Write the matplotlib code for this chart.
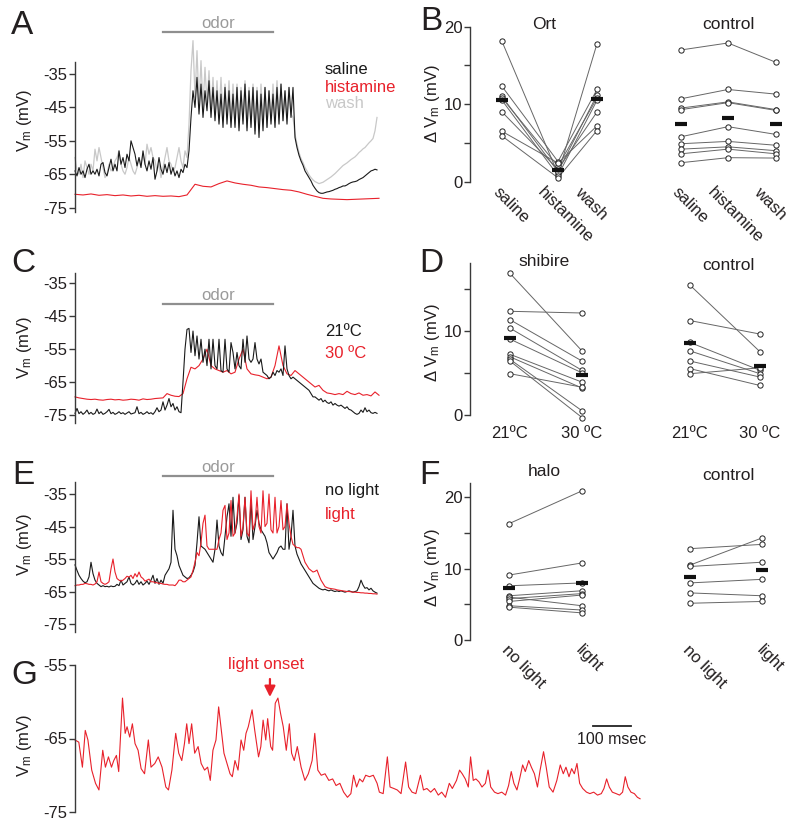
import numpy as np
import matplotlib
matplotlib.use("Agg")
import matplotlib.pyplot as plt

plt.rcParams['font.family'] = ['Liberation Sans', 'DejaVu Sans']
plt.rcParams['mathtext.fontset'] = 'custom'
plt.rcParams['mathtext.rm'] = 'Liberation Sans'
plt.rcParams['mathtext.it'] = 'Liberation Sans:italic'

BLACK = '#1a1a1a'
RED = '#e8212b'
LIGHT = '#c8c8c8'
ODOR = '#8f8f8f'
TXT = '#231f20'
FS = 12

# ---------------- traces (mV), sampled every 2 units unless noted ----------------
a_saline = [
    -64, -65.5, -63, -65, -64, -66, -63.5, -62, -65, -64,
    -65, -63.5, -65.5, -62, -61.5, -64.5, -65.5, -63, -60.5, -64,
    -62, -64, -58, -62, -60, -63, -59, -61, -55, -57,
    -59, -62.5, -60, -63, -58, -62, -64, -61, -63.5, -60,
    -66.5, -64, -60, -63.5, -65, -62, -64.5, -61.5, -65, -63,
    -65.5, -64, -66, -63.5, -64.5, -62, -63, -58, -48, -40,
    -45, -36, -47, -38, -48, -40, -46, -37, -48, -39,
    -49, -40, -50, -41, -51, -39, -50, -40, -51, -41,
    -51, -39, -52, -40, -50, -38, -52, -40, -51, -39,
    -53, -40, -54, -41, -52, -39, -51, -40, -50, -41,
    -51, -39, -50, -38, -49, -40, -50, -39, -48, -39,
    -54, -57, -59.3, -61, -62.3, -64, -65, -66, -67, -68.3,
    -69.2, -70, -70.5, -70.7, -70.7, -70.5, -70.3, -70.2, -70, -69.8,
    -69.5, -69.3, -69, -68.8, -68.5, -68.5, -68.2, -67.8, -67.5, -67.3,
    -67.2, -67, -66.6, -66.3, -66, -65.5, -65, -64.5, -64, -63.8,
    -63.5, -63.7]
a_wash = [
    -60, -64, -65, -62, -66, -61, -63, -65, -62, -64,
    -57.5, -61, -57, -60, -63, -66, -65, -62, -64, -63,
    -61, -60, -58, -62, -64, -65, -63, -60, -62, -64,
    -65, -63, -60, -62, -59, -62, -56, -59, -57, -60,
    -61, -64, -62, -66, -63, -60, -57, -61, -62, -64,
    -63, -60, -57, -61, -63, -58, -60, -50, -34, -25,
    -42, -28, -44, -31, -45, -33, -44, -34, -46, -36,
    -47, -37, -48, -36, -49, -38, -48, -37, -49, -38,
    -50, -38, -51, -39, -49, -37, -51, -39, -50, -38,
    -52, -39, -51, -38, -50, -39, -51, -40, -49, -38,
    -49, -37, -48, -38, -49, -40, -48, -39, -47, -48,
    -53, -56, -58.5, -60.3, -61.5, -63, -64, -65.2, -66, -66.7,
    -67.2, -67.5, -67.8, -67.6, -67.4, -67, -66.6, -66.2, -65.8, -65.3,
    -64.8, -64.2, -63.6, -63, -62.4, -62, -61.6, -61.1, -60.6, -60.2,
    -59.8, -59.2, -58.5, -58, -57.4, -57, -56.3, -55.6, -55, -54.3,
    -52, -48]
# histamine, sampled every 8 units
a_histamine = [
    -71, -71.2, -70.9, -71.3, -71.1, -71.4, -71.2, -71.5, -71.3, -71.6,
    -71.4, -71.6, -71.5, -71.7, -71.2, -68, -68.6, -68.8, -67.8, -67,
    -67.6, -68, -68.3, -68.8, -69, -69.3, -69.6, -69.8, -70.3, -71,
    -71.6, -72.2, -72.4, -72.5, -72.6, -72.5, -72.4, -72.3, -72.2]

c_21 = [
    -74.5, -73, -74.6, -74, -74.8, -74.3, -73.5, -74.7, -74.2, -74.8,
    -74.5, -73.2, -74.6, -74, -74.8, -74.5, -74, -73.3, -74.6, -74.2,
    -74.8, -74.5, -74, -74.6, -74.3, -74.8, -74.4, -74, -74.7, -74.5,
    -74.3, -72.5, -74.6, -74.2, -74.8, -74.5, -74, -74.6, -74.3, -74.8,
    -74, -72.8, -74, -73.5, -71, -73.5, -72, -70, -72.5, -71.5,
    -73.5, -72.5, -74, -74.3, -65, -55, -49, -48.7, -56, -49.5,
    -57, -51, -58, -52, -59, -55, -60, -52, -61, -52,
    -60, -61, -52, -61.5, -62, -52, -61, -62, -53, -56,
    -61, -56, -60, -61, -52, -59, -51, -58, -59, -58,
    -53, -58, -59.5, -58, -62, -62.5, -63, -64, -63.5, -62,
    -63, -61.5, -62, -61, -63, -54, -61, -63, -64, -63.5,
    -64, -64.5, -65, -65.5, -66, -66.5, -67, -67.5, -68.5, -69.5,
    -69.5, -70, -70.5, -70, -71, -70.5, -71.2, -71.5, -71, -72,
    -71.5, -72, -72.3, -72, -72.5, -73, -72.5, -73.3, -73.5, -74,
    -74.5, -74.8, -74.5, -73.5, -74.2, -72.8, -74, -73.5, -74.3, -74.5,
    -74.2, -74.5]
# 30 C, sampled every 4 units
c_30 = [
    -69.5, -69.8, -70, -70.2, -70.3, -70.2, -70.4, -70.5, -70.3, -70.2,
    -70.4, -70.3, -70.5, -70.4, -70.2, -70.3, -70.5, -70.1, -70.3, -70.2,
    -70, -69.9, -69.8, -68.5, -69, -69.3, -69.4, -68.5, -64, -60.5,
    -61, -60, -58, -55, -60, -61, -61.5, -62, -61.5, -62.5,
    -62, -58, -55, -61, -62.5, -62.8, -63, -63.5, -64, -63.5,
    -60, -54, -60, -62.5, -63, -61.5, -62.5, -63.5, -64.5, -65.5,
    -66.5, -66, -67.5, -68.3, -68.5, -68.8, -68.5, -68.8, -67.8, -68.5,
    -68.8, -68.3, -69, -68.8, -69.2, -68, -69]

e_nolight = [
    -56.8, -58.5, -60, -61, -61.8, -62.3, -62, -60.5, -56, -59.5,
    -61.5, -62.5, -63, -63.5, -63.2, -63.5, -63.4, -63.6, -63.3, -63.5,
    -63.4, -62.8, -63.2, -61.5, -63, -62.5, -62, -60.5, -62.5, -63,
    -62.5, -61.5, -62.8, -62, -63, -62.5, -61.8, -62.8, -61.5, -60,
    -62.5, -61, -62.8, -61.5, -62.5, -60, -59, -58, -56, -40,
    -52, -54, -57, -58.5, -60, -60.5, -61, -60.8, -60, -59,
    -57, -50, -42, -51, -51.5, -52, -53, -54, -55, -56,
    -52, -43, -51, -53, -54, -48, -42, -38, -48, -36,
    -47, -44, -35.5, -49, -46, -36, -48, -50, -37, -49,
    -45, -40, -44, -46, -47, -48, -50, -53, -54, -55,
    -54, -53, -51.5, -51, -52, -52, -38, -52, -48, -40,
    -51, -53.5, -55, -56.5, -57.5, -58.5, -59.5, -60.5, -61.5, -62.5,
    -63, -63.5, -64, -64.3, -64.5, -64.3, -64.6, -64.8, -64.5, -64.8,
    -65, -64.8, -65, -64.8, -65, -65.2, -65, -64.8, -65, -65.2,
    -65, -64.8, -63.5, -61.5, -63, -64, -63.8, -64.5, -64, -64.8,
    -65.2, -65.5]
e_light = [
    -63.2, -63, -63, -62.8, -62.8, -62.5, -62.6, -62.8, -62.8, -63,
    -62.7, -62, -59, -62, -62.5, -62.8, -62.5, -62, -58, -55,
    -59, -61, -61.5, -61.8, -61.5, -61, -60.3, -60.6, -60, -61,
    -59.5, -60.5, -59, -60.5, -61, -61.8, -61.5, -61.2, -62, -62,
    -62.2, -62.3, -62.5, -62.5, -62.7, -62.8, -62.8, -63, -63, -63,
    -63.2, -62.5, -61.5, -61.5, -62, -62, -61.5, -61, -60.5, -58.5,
    -56, -53, -54, -50, -44, -41.5, -51, -52, -52, -52,
    -52, -52, -49, -47, -40, -38.5, -49, -47, -37, -48,
    -47, -42, -35, -48, -45, -36, -47, -48, -34, -46,
    -44, -36, -45, -47, -34, -45, -44, -35, -46, -47,
    -36, -47, -45, -37, -46, -45, -38, -44, -48, -50.5,
    -51, -51.5, -51.5, -52, -54, -56, -57, -58, -58.5, -59,
    -58.8, -58.4, -60, -61.5, -62.5, -63.5, -63.8, -64, -64.1, -64.2,
    -64.3, -64.5, -64.6, -64.7, -64.8, -64.9, -65, -65, -65.1, -65.2,
    -65.2, -65.3, -65.3, -65.4, -65.4, -65.5, -65.5, -65.6, -65.6, -65.7,
    -65.7, -65.8]

odor_on, odor_off = 88, 198

# panel G: (time in msec, Vm in mV)
g_points = [
    (0, -65.2), (10, -65.5), (19.5, -68.9), (27, -63.9), (34, -65.2), (44, -69.3), (54, -71.1), (63, -72), (73, -66.6), (80, -68.9),
    (88, -67.5), (96, -68.9), (102, -68), (109, -67.3), (115, -69.5), (125, -59.5), (132, -64.3), (137, -63.4), (144, -64.8), (151, -63),
    (158, -65.7), (166, -66.6), (174, -69.1), (183, -69.8), (193, -65.2), (200, -68.9), (210, -68.4), (219, -67.5), (229, -68.9), (239, -71.6),
    (246, -72), (255, -69.3), (265, -64.3), (273, -67), (281, -68), (288, -65.7), (294, -63), (300, -65.7), (307, -63), (315, -67),
    (324, -66.1), (332, -68.4), (341, -69.3), (349, -68.9), (356, -70.7), (363, -66.6), (371, -65.2), (378, -60.7), (385, -63.9), (392, -67),
    (400, -68.4), (408, -69.8), (414, -70.2), (421, -68), (429, -69.3), (437, -65.2), (444, -66.6), (450, -64.3), (456, -63.4), (466, -61.1),
    (473, -63.9), (483, -67.5), (489, -66.1), (495, -62.5), (502, -65.2), (507, -62.3), (515, -66.1), (520, -66.6), (527, -60.2), (534, -59.5),
    (541, -61.6), (548, -63.4), (556, -66.6), (564, -63), (570, -67), (577, -68), (585, -66.1), (595, -68.9), (605, -70.7), (614, -69.8),
    (624, -68), (631, -64.3), (639, -69.3), (648, -70), (658, -69.8), (668, -70.7), (678, -70.5), (687, -71.4), (697, -71.1), (707, -72.3),
    (717, -73), (726, -72.5), (733, -70), (741, -71.6), (749, -70.5), (757, -70.9), (765, -70), (775, -70.2), (785, -70), (795, -71.1),
    (801, -72.3), (811, -72.5), (822, -67.5), (829, -71.6), (839, -71.8), (848, -72), (858, -72.5), (870, -68.2), (878, -71.6), (887, -72.3),
    (897, -72.5), (909, -70), (917, -72), (926, -71.8), (936, -72.3), (946, -71.8), (956, -72.7), (965, -72.3), (975, -73), (985, -71.1),
    (993, -71.8), (1004, -70.7), (1012, -69.3), (1019, -69.8), (1027, -70.5), (1035, -71.6), (1041, -67.5), (1048, -70.7), (1055, -70.5), (1063, -70.9),
    (1071, -71.6), (1080, -71.1), (1087, -69.3), (1094, -71.6), (1104, -72.3), (1113, -72.5), (1123, -72.3), (1133, -72.7), (1141, -71.4), (1148, -69.5),
    (1155, -71.1), (1163, -72), (1170, -70.5), (1178, -68.6), (1185, -69.5), (1194, -68), (1201, -68.9), (1209, -69.8), (1217, -71.6), (1224, -69.3),
    (1233, -66.8), (1240, -68.9), (1248, -71.6), (1258, -72.3), (1268, -70.7), (1277, -68.6), (1285, -69.8), (1292, -68.9), (1300, -70.2), (1307, -69.1),
    (1314, -69.8), (1321, -68.4), (1328, -71.1), (1336, -71.8), (1346, -72.3), (1355, -72.5), (1365, -72.3), (1375, -72.7), (1385, -72.5), (1392, -71.8),
    (1399, -70.5), (1406, -71.6), (1414, -72.3), (1424, -72.5), (1433, -72.7), (1441, -72.3), (1448, -70.2), (1455, -71.6), (1463, -72.3), (1472, -72.5),
    (1480, -73), (1487, -73.2)]
g_time_ms = np.array([p[0] for p in g_points])
g_vm = np.array([p[1] for p in g_points])
light_onset_ms = 513

# ---------------- paired dV (mV) ----------------
ort_saline = [18.1, 12.3, 11.0, 10.8, 10.5, 9.0, 6.5, 5.9]
ort_histamine = [1.0, 2.6, 1.3, 2.0, 0.8, 1.6, 2.4, 0.5]
ort_wash = [17.8, 11.9, 11.2, 10.8, 10.5, 9.0, 7.2, 6.6]
ctlB_saline = [17.0, 10.7, 9.5, 9.3, 5.8, 4.9, 4.2, 3.6, 2.45]
ctlB_histamine = [17.9, 11.9, 10.3, 10.2, 7.1, 5.2, 4.5, 4.2, 3.1]
ctlB_wash = [15.4, 11.3, 9.3, 9.2, 6.1, 4.7, 4.0, 3.6, 3.05]
B_labels = ['saline', 'histamine', 'wash']

shi_21 = [16.8, 12.3, 11.3, 10.3, 9.0, 7.2, 6.9, 6.6, 6.4, 4.9]
shi_30 = [7.6, 12.1, 6.4, 5.3, 5.0, 3.9, 3.2, 0.5, -0.3, 3.3]
ctlD_21 = [15.4, 11.2, 8.6, 7.6, 6.4, 5.5, 4.9]
ctlD_30 = [7.5, 9.6, 5.3, 4.9, 4.5, 3.5, 5.6]
D_labels = ['21ºC', '30 ºC']

halo_off = [16.3, 9.1, 7.6, 6.2, 6.0, 5.8, 5.4, 4.8, 4.6]
halo_on = [20.9, 10.8, 8.0, 6.9, 4.8, 6.5, 6.3, 4.2, 3.8]
ctlF_off = [12.8, 10.5, 10.3, 8.0, 6.6, 5.15]
ctlF_on = [13.4, 14.3, 10.9, 8.5, 6.2, 5.4]
F_labels = ['no light', 'light']

W, H = 800, 834
fig = plt.figure(figsize=(W / 100, H / 100), dpi=100)


def px_axes(l, t, r, b):
    ax = fig.add_axes([l / W, 1 - b / H, (r - l) / W, (b - t) / H])
    ax.patch.set_alpha(0)
    for s in ['top', 'right', 'bottom']:
        ax.spines[s].set_visible(False)
    ax.spines['left'].set_color('#3a3a3a')
    ax.spines['left'].set_linewidth(1)
    ax.set_xticks([])
    ax.tick_params(axis='y', length=4.5, width=1, pad=1, labelsize=FS,
                   colors='#3a3a3a', labelcolor=TXT)
    return ax


def y_of(ax, row):
    return ax.transData.inverted().transform((0, H - row))[1]


def ftext(x, y, s, **kw):
    kw.setdefault('fontsize', FS)
    kw.setdefault('color', TXT)
    fig.text(x / W, 1 - y / H, s, **kw)


def trace_axes(top, bottom, ylim, ticks):
    ax = px_axes(75, top, 380, bottom)
    ax.set_xlim(0, 305)
    ax.set_ylim(*ylim)
    ax.set_yticks(ticks)
    ax.set_yticklabels([str(t) for t in ticks])
    return ax


def odor_bar(ax, bar_row, text_row):
    yb = y_of(ax, bar_row)
    ax.plot([odor_on, odor_off], [yb, yb], color=ODOR, lw=1.6, clip_on=False)
    ax.text((odor_on + odor_off) / 2, y_of(ax, text_row), 'odor', color='#9a9a9a',
            ha='center', va='center', fontsize=FS)


vticks = [-35, -45, -55, -65, -75]
vlabel = 'V$_\\mathrm{m}$ (mV)'
dlabel = 'Δ V$_\\mathrm{m}$ (mV)'
LW = 0.8

# ---- A ----
axA = trace_axes(62, 212, (-76.3, -31.4), vticks)
axA.plot(np.arange(len(a_wash)) * 2, a_wash, color=LIGHT, lw=LW + 0.1, clip_on=False)
axA.plot(np.arange(len(a_saline)) * 2, a_saline, color=BLACK, lw=LW, clip_on=False)
axA.plot(np.arange(len(a_histamine)) * 8, a_histamine, color=RED, lw=LW, clip_on=False)
odor_bar(axA, 31.7, 24)
ftext(325, 70, 'saline', color=BLACK, va='center')
ftext(325, 87, 'histamine', color=RED, va='center')
ftext(325, 103, 'wash', color=LIGHT, va='center')
ftext(25, 120, vlabel, rotation=90, ha='center', va='center')

# ---- C ----
axC = trace_axes(273, 423, (-77.43, -31.87), vticks)
axC.plot(np.arange(len(c_30)) * 4, c_30, color=RED, lw=LW, clip_on=False)
axC.plot(np.arange(len(c_21)) * 2, c_21, color=BLACK, lw=LW, clip_on=False)
odor_bar(axC, 304, 295)
ftext(325, 331, '21ºC', color=BLACK, va='center')
ftext(325, 354, '30 ºC', color=RED, va='center')
ftext(25, 347, vlabel, rotation=90, ha='center', va='center')

# ---- E ----
axE = trace_axes(482, 632, (-77.46, -31.3), vticks)
axE.plot(np.arange(len(e_nolight)) * 2, e_nolight, color=BLACK, lw=LW, clip_on=False)
axE.plot(np.arange(len(e_light)) * 2, e_light, color=RED, lw=LW, clip_on=False)
odor_bar(axE, 475.7, 467)
ftext(325, 491, 'no light', color=BLACK, va='center')
ftext(325, 514, 'light', color=RED, va='center')
ftext(25, 544, vlabel, rotation=90, ha='center', va='center')

# ---- G ----
axG = px_axes(75, 665, 660, 812)
axG.set_xlim(0, 585 / 0.38)
axG.set_ylim(-75, -55)
axG.set_yticks([-55, -65, -75])
axG.set_yticklabels(['-55', '-65', '-75'])
axG.plot(g_time_ms, g_vm, color=RED, lw=LW, clip_on=False)
axG.annotate('', xy=(light_onset_ms, y_of(axG, 697)), xytext=(light_onset_ms, y_of(axG, 679)),
             arrowprops=dict(arrowstyle='-|>', color=RED, lw=1.6, mutation_scale=16,
                             shrinkA=0, shrinkB=0), annotation_clip=False)
axG.text(light_onset_ms - 10, y_of(axG, 664), 'light onset', color=RED, ha='center',
         va='center', fontsize=FS, clip_on=False)
sb_start = (593 - 75) / 0.38
axG.plot([sb_start, sb_start + 100], [y_of(axG, 726)] * 2, color='#222', lw=1.3, clip_on=False)
axG.text(sb_start + 50, y_of(axG, 739), '100 msec', ha='center', va='center',
         fontsize=11.5, color=TXT, clip_on=False)
ftext(25, 745, vlabel, rotation=90, ha='center', va='center')


# ---- dot plots ----
def dot_group(ax, xs, series):
    arr = np.array(series)
    for j in range(arr.shape[1]):
        ax.plot(xs, arr[:, j], color='#666666', lw=0.7, zorder=1, clip_on=False)
    for x, vals in zip(xs, series):
        ax.plot([x] * len(vals), vals, 'o', mfc='white', mec='#222', ms=3.8, mew=0.7,
                zorder=3, clip_on=False)
        ax.plot([x], [np.mean(vals)], marker='_', ms=9, mew=3, color='#111', zorder=4,
                clip_on=False)


def dot_axes(top, bottom, ymax, ticks, labels):
    ax = px_axes(470, top, 800, bottom)
    ax.set_xlim(470, 800)
    ax.set_ylim(0, ymax)
    ax.set_yticks(ticks)
    ax.set_yticklabels(labels)
    return ax


def slanted_labels(ax, xs, labels, row, shifts):
    for x, lab, dx in zip(xs, labels, shifts):
        ax.text(x + dx, y_of(ax, row), lab, rotation=-45, rotation_mode='anchor',
                ha='left', va='center', fontsize=FS, color=TXT, clip_on=False)


axB = dot_axes(26.7, 181.7, 20, [0, 5, 10, 15, 20], ['0', '', '10', '', '20'])
xB1, xB2 = [502, 558, 597], [681, 728, 776]
dot_group(axB, xB1, [ort_saline, ort_histamine, ort_wash])
dot_group(axB, xB2, [ctlB_saline, ctlB_histamine, ctlB_wash])
axB.text(544, y_of(axB, 25), 'Ort', ha='center', va='center', fontsize=12.5, color=TXT)
axB.text(728, y_of(axB, 25), 'control', ha='center', va='center', fontsize=12.5, color=TXT)
slanted_labels(axB, xB1 + xB2, B_labels * 2, 190, [-6, -18, -20] * 2)
ftext(433, 104, dlabel, rotation=90, ha='center', va='center')

axD = dot_axes(263, 415, 18.03, [0, 5, 10, 15], ['0', '', '10', ''])
xD1, xD2 = [510, 582], [690, 760]
dot_group(axD, xD1, [shi_21, shi_30])
dot_group(axD, xD2, [ctlD_21, ctlD_30])
axD.text(544, y_of(axD, 262), 'shibire', ha='center', va='center', fontsize=12.5, color=TXT)
axD.text(728, y_of(axD, 265), 'control', ha='center', va='center', fontsize=12.5, color=TXT)
for x, lab in zip(xD1 + xD2, D_labels * 2):
    axD.text(x, y_of(axD, 434), lab, ha='center', va='center', fontsize=FS, color=TXT,
             clip_on=False)
ftext(433, 343, dlabel, rotation=90, ha='center', va='center')

axF = dot_axes(483, 640, 22, [0, 5, 10, 15, 20], ['0', '', '10', '', '20'])
xF1, xF2 = [509, 582], [690, 762]
dot_group(axF, xF1, [halo_off, halo_on])
dot_group(axF, xF2, [ctlF_off, ctlF_on])
axF.text(544, y_of(axF, 472), 'halo', ha='center', va='center', fontsize=12.5, color=TXT)
axF.text(728, y_of(axF, 475), 'control', ha='center', va='center', fontsize=12.5, color=TXT)
slanted_labels(axF, xF1 + xF2, F_labels * 2, 648, [-5, -4, -5, -3])
ftext(433, 568, dlabel, rotation=90, ha='center', va='center')

# panel letters
for s, x, y in [('A', 22, 26), ('B', 431, 22), ('C', 23, 263), ('D', 431, 264),
                ('E', 23, 475), ('F', 429, 475), ('G', 24, 675)]:
    ftext(x, y, s, fontsize=24, ha='center', va='center')

fig.savefig('out.png', dpi=100)
